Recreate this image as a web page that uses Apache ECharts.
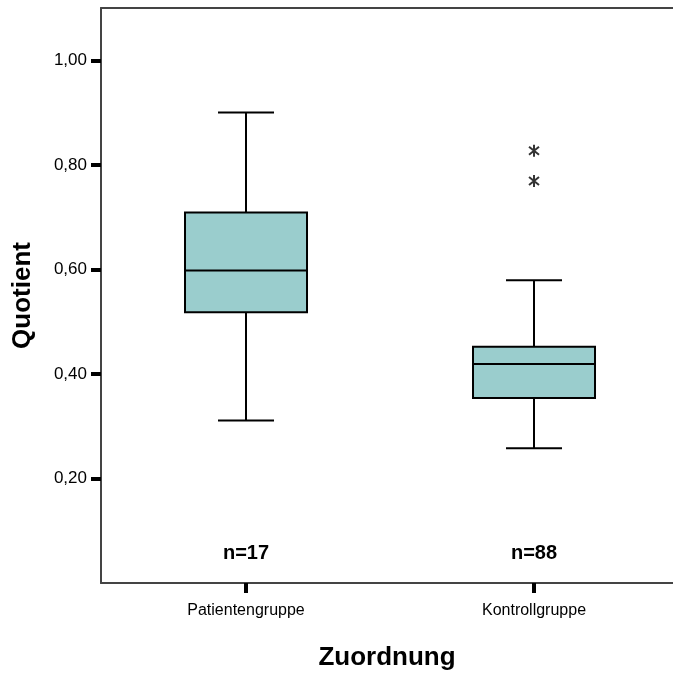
<!DOCTYPE html>
<html>
<head>
<meta charset="utf-8">
<script src="https://cdn.jsdelivr.net/npm/echarts@6/dist/echarts.min.js"></script>
<style>
  html, body { margin: 0; padding: 0; background: #fff; }
  #chart { width: 673px; height: 678px; }
</style>
</head>
<body>
<div id="chart"></div>
<script>
// Group names and sizes
const categories = ['Patientengruppe', 'Kontrollgruppe'];
const groupSizes = [17, 88];

// Box statistics per group (whisker low, Q1, median, Q3, whisker high)
const whiskerLow = [0.311, 0.258];
const quartile1 = [0.518, 0.354];
const medians = [0.598, 0.419];
const quartile3 = [0.709, 0.452];
const whiskerHigh = [0.900, 0.579];

// Extreme values (group index, value)
const extremeGroup = [1, 1];
const extremeValues = [0.827, 0.769];

// Y tick labels
const yTicks = [0.2, 0.4, 0.6, 0.8, 1.0];

const FONT = 'Arial, "Liberation Sans", Helvetica, sans-serif';
const BOX_FILL = '#9ACDCD';
const FRAME = '#444';
const BOX_W = 122;
const CAP_W = 56;

const boxData = categories.map((c, i) => [
  i, whiskerLow[i], quartile1[i], medians[i], quartile3[i], whiskerHigh[i], groupSizes[i]
]);
const extremeData = extremeValues.map((v, i) => [extremeGroup[i], v]);

function fmt(v) {
  return v.toFixed(2).replace('.', ',');
}

function renderBox(params, api) {
  const x = api.value(0);
  const pLow = api.coord([x, api.value(1)]);
  const pQ1 = api.coord([x, api.value(2)]);
  const pMed = api.coord([x, api.value(3)]);
  const pQ3 = api.coord([x, api.value(4)]);
  const pHigh = api.coord([x, api.value(5)]);
  const pBase = api.coord([x, 0]);
  const cx = pMed[0];
  const line = { stroke: '#000', lineWidth: 2 };
  return {
    type: 'group',
    children: [
      { type: 'line', shape: { x1: cx, y1: pHigh[1], x2: cx, y2: pQ3[1] }, style: line },
      { type: 'line', shape: { x1: cx, y1: pQ1[1], x2: cx, y2: pLow[1] }, style: line },
      { type: 'line', shape: { x1: cx - CAP_W / 2, y1: pHigh[1], x2: cx + CAP_W / 2, y2: pHigh[1] }, style: line },
      { type: 'line', shape: { x1: cx - CAP_W / 2, y1: pLow[1], x2: cx + CAP_W / 2, y2: pLow[1] }, style: line },
      { type: 'rect', shape: { x: cx - BOX_W / 2, y: pQ3[1], width: BOX_W, height: pQ1[1] - pQ3[1] },
        style: { fill: BOX_FILL, stroke: '#000', lineWidth: 2 } },
      { type: 'line', shape: { x1: cx - BOX_W / 2, y1: pMed[1], x2: cx + BOX_W / 2, y2: pMed[1] }, style: line },
      { type: 'text', x: cx, y: pBase[1] - 30,
        style: { text: 'n=' + api.value(6), fill: '#000', font: 'bold 20px ' + FONT,
                 align: 'center', verticalAlign: 'middle' } }
    ]
  };
}

const chart = echarts.init(document.getElementById('chart'), null, { renderer: 'canvas' });
chart.setOption({
  backgroundColor: '#fff',
  animation: false,
  // The frame runs past the right edge of the page, so only left, top and bottom are drawn
  grid: { left: 101, top: 8, right: 0, height: 575, show: false },
  xAxis: [
    {
      type: 'value', min: -0.5035, max: 1.4826, position: 'bottom',
      splitLine: { show: false },
      axisLine: { show: true, onZero: false, lineStyle: { color: FRAME, width: 2 } },
      axisTick: { show: true, customValues: [0, 1], length: 10, inside: false,
                  lineStyle: { color: '#000', width: 4 } },
      axisLabel: { customValues: [0, 1], margin: 20, fontSize: 16, fontFamily: FONT, color: '#000',
                   formatter: v => categories[Math.round(v)] },
      name: 'Zuordnung', nameLocation: 'middle', nameGap: 62,
      nameTextStyle: { fontSize: 26, fontWeight: 'bold', fontFamily: FONT, color: '#000' }
    },
    {
      type: 'value', min: -0.5035, max: 1.4826, position: 'top',
      splitLine: { show: false },
      axisLine: { show: true, onZero: false, lineStyle: { color: FRAME, width: 2 } },
      axisTick: { show: false },
      axisLabel: { show: false }
    }
  ],
  yAxis: {
    type: 'value', min: 0, max: 1.1,
    splitLine: { show: false },
    axisLine: { show: true, onZero: false, lineStyle: { color: FRAME, width: 2 } },
    axisTick: { show: true, customValues: yTicks, length: 10, inside: false,
                lineStyle: { color: '#000', width: 4 } },
    axisLabel: { customValues: yTicks, margin: 14, fontSize: 17, fontFamily: FONT, color: '#000',
                 formatter: fmt },
    name: 'Quotient', nameLocation: 'middle', nameGap: 65, nameRotate: 90,
    nameTextStyle: { fontSize: 26, fontWeight: 'bold', fontFamily: FONT, color: '#000' }
  },
  series: [
    {
      type: 'custom',
      renderItem: renderBox,
      data: boxData,
      encode: { x: 0, y: [1, 2, 3, 4, 5] },
      clip: false
    },
    {
      type: 'scatter',
      data: extremeData,
      // asterisk: vertical bar crossed by two diagonals
      symbol: 'path://M6,0 L6,12 M1,2 L11,10 M1,10 L11,2',
      symbolSize: 12,
      symbolKeepAspect: true,
      itemStyle: { color: 'none', borderColor: '#000', borderWidth: 2 }
    }
  ]
});
</script>
</body>
</html>
